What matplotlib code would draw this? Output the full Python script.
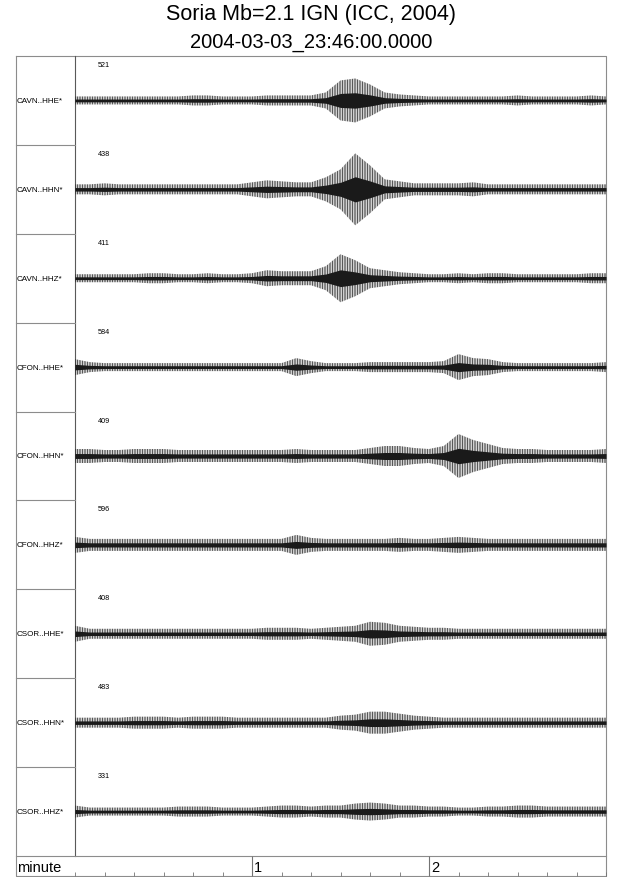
import numpy as np
import matplotlib
matplotlib.use("Agg")
import matplotlib.pyplot as plt
from matplotlib.ticker import MultipleLocator, FixedLocator

# Dados (amplitude em pixels, lida a cada 5 s)
title_1 = "Soria Mb=2.1 IGN (ICC, 2004)"
title_2 = "2004-03-03_23:46:00.0000"
channels = ["CAVN..HHE*", "CAVN..HHN*", "CAVN..HHZ*",
            "CFON..HHE*", "CFON..HHN*", "CFON..HHZ*",
            "CSOR..HHE*", "CSOR..HHN*", "CSOR..HHZ*"]
max_counts = [521, 438, 411, 584, 409, 596, 408, 483, 331]
t_sec = [0, 5, 10, 15, 20, 25, 30, 35, 40, 45, 50, 55, 60, 65, 70, 75, 80, 85,
         90, 95, 100, 105, 110, 115, 120, 125, 130, 135, 140, 145, 150, 155,
         160, 165, 170, 175, 180]

env_cavn_hhe = [4, 4, 4, 4, 4, 4, 4, 4, 5, 5, 4, 4, 4, 5, 5, 5, 5, 8,
                20, 22, 16, 8, 6, 5, 4, 4, 4, 4, 4, 4, 5, 4, 4, 4, 4, 5, 4]
env_cavn_hhn = [5, 5, 6, 5, 5, 5, 5, 5, 5, 5, 5, 5, 7, 9, 8, 7, 7, 12,
                20, 36, 24, 10, 8, 6, 6, 6, 6, 7, 5, 5, 5, 5, 5, 5, 5, 5, 5]
env_cavn_hhz = [4, 4, 4, 4, 4, 5, 5, 4, 4, 5, 4, 4, 5, 8, 7, 7, 7, 12,
                24, 18, 10, 8, 6, 5, 4, 4, 5, 4, 5, 5, 4, 4, 4, 4, 4, 5, 5]
env_cfon_hhe = [8, 5, 4, 4, 4, 4, 4, 4, 4, 4, 4, 4, 4, 4, 4, 9, 6, 4,
                4, 4, 5, 5, 5, 5, 5, 6, 13, 9, 8, 5, 4, 4, 4, 4, 4, 4, 5]
env_cfon_hhn = [7, 7, 6, 6, 7, 7, 7, 6, 6, 6, 6, 6, 6, 6, 6, 7, 6, 6,
                6, 6, 8, 10, 10, 8, 7, 10, 22, 16, 12, 8, 7, 7, 6, 6, 6, 6, 7]
env_cfon_hhz = [8, 6, 6, 6, 6, 6, 6, 6, 6, 6, 6, 6, 6, 6, 6, 10, 7, 6,
                6, 6, 6, 6, 7, 6, 6, 7, 8, 7, 6, 6, 6, 6, 6, 6, 6, 6, 6]
env_csor_hhe = [8, 5, 5, 5, 5, 5, 5, 5, 5, 5, 5, 5, 5, 6, 6, 6, 5, 6,
                7, 8, 12, 11, 8, 7, 6, 6, 5, 5, 5, 5, 5, 5, 5, 5, 5, 5, 5]
env_csor_hhn = [5, 5, 5, 5, 6, 6, 6, 5, 6, 6, 6, 5, 5, 5, 5, 5, 5, 5,
                7, 8, 11, 11, 9, 7, 6, 5, 5, 5, 5, 5, 5, 5, 5, 5, 5, 5, 5]
env_csor_hhz = [6, 4, 4, 4, 4, 4, 4, 5, 5, 5, 4, 4, 4, 5, 6, 6, 5, 6,
                6, 8, 9, 8, 6, 6, 5, 5, 4, 4, 5, 5, 6, 6, 5, 5, 5, 5, 5]
envelopes = [env_cavn_hhe, env_cavn_hhn, env_cavn_hhz,
             env_cfon_hhe, env_cfon_hhn, env_cfon_hhz,
             env_csor_hhe, env_csor_hhn, env_csor_hhz]

minute_ticks = [60, 120]
minute_labels = ["1", "2"]

# Layout em pixels
W, H = 640, 878
x_left, x_div, x_right = 16, 75, 606
y_top, y_rows_end, y_bottom = 57, 857, 877
row_h = (y_rows_end - y_top) / len(channels)

plt.rcParams["font.family"] = ["Liberation Sans", "DejaVu Sans"]
plt.rcParams["hatch.linewidth"] = 0.55
fig = plt.figure(figsize=(W / 100, H / 100), dpi=100)

# Eixo de fundo em coordenadas de pixel
frame = fig.add_axes([0, 0, 1, 1])
frame.set_xlim(0, W)
frame.set_ylim(H, 0)
frame.axis("off")

line_kw = dict(color="0.55", lw=0.8)
frame.plot([x_left, x_right, x_right, x_left, x_left],
           [y_top, y_top, y_bottom, y_bottom, y_top], **line_kw)
frame.plot([x_div, x_div], [y_top, y_rows_end], color="0.35", lw=0.8)
frame.plot([x_left, x_right], [y_rows_end, y_rows_end], **line_kw)

frame.text(311, 20, title_1, ha="center", va="baseline", fontsize=15.5)
frame.text(311, 48, title_2, ha="center", va="baseline", fontsize=14.5)

for i, (name, cnt, env) in enumerate(zip(channels, max_counts, envelopes)):
    top = y_top + i * row_h
    if i > 0:
        frame.plot([x_left, x_div], [top, top], **line_kw)
    frame.text(x_left + 1, top + row_h / 2, name, ha="left", va="center",
               fontsize=5.8)
    frame.text(98, top + 8.5, str(cnt), ha="left", va="center", fontsize=5.2)

    # Traço sísmico
    ax = fig.add_axes([x_div / W, 1 - (top + row_h) / H,
                       (x_right - x_div) / W, row_h / H])
    ax.set_xlim(0, 180)
    ax.set_ylim(-row_h / 2, row_h / 2)
    ax.axis("off")
    env = np.array(env)
    ax.fill_between(t_sec, -env, env, facecolor="none", edgecolor="0.15",
                    hatch="||||||||||", lw=0)
    ax.fill_between(t_sec, -env * 0.35, env * 0.35, color="0.1", lw=0)

frame.text(x_left + 1, (y_rows_end + y_bottom) / 2 + 1, "minute",
           ha="left", va="center", fontsize=10.5)

# Régua de tempo
tax = fig.add_axes([x_div / W, 1 - y_bottom / H,
                    (x_right - x_div) / W, (y_bottom - y_rows_end) / H])
tax.set_xlim(0, 180)
tax.set_ylim(0, 1)
tax.patch.set_alpha(0)
for s in tax.spines.values():
    s.set_visible(False)
tax.set_yticks([])
tax.xaxis.set_major_locator(FixedLocator(minute_ticks))
tax.xaxis.set_minor_locator(MultipleLocator(10))
tax.tick_params(axis="x", which="major", direction="in", length=14.4,
                width=0.8, color="0.45", labelbottom=False)
tax.tick_params(axis="x", which="minor", direction="in", length=3,
                width=0.6, color="0.45")
for t, lab in zip(minute_ticks, minute_labels):
    tax.text(t + 0.8, 0.45, lab, ha="left", va="center", fontsize=10.5)

fig.savefig("out.png", dpi=100)
